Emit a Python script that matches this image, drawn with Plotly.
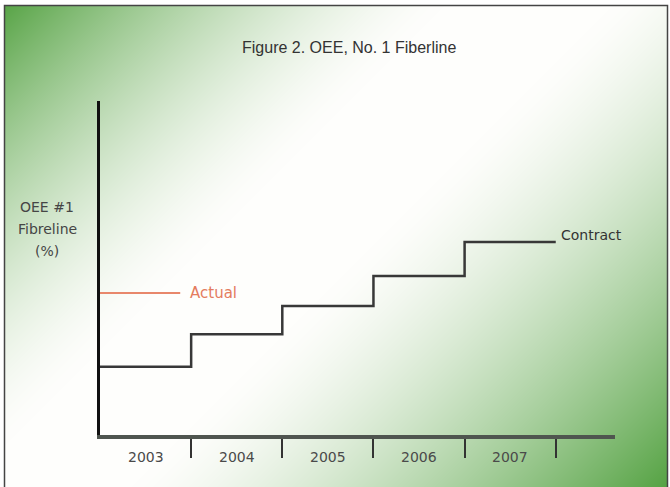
import base64
import struct
import zlib

import numpy as np
import plotly.graph_objects as go

# ---------------- data ----------------
years = ["2003", "2004", "2005", "2006", "2007"]
period_starts = [2003, 2004, 2005, 2006, 2007]
period_end = 2008
contract = [20.4, 30.2, 38.6, 47.6, 57.8]   # OEE contract level per year (relative %)
actual_level = 42.5
actual_span = [2003, 2003.88]

# ---------------- layout geometry (pixels) ----------------
W, H = 670, 487
L, R, T, B = 100, 55, 101, 52
PW, PH = W - L - R, H - T - B


def px_to_paper_x(px):
    return (px - L) / PW


def px_to_paper_y(py):
    return (H - B - py) / PH


# ---------------- background gradient image ----------------
def make_png(arr):
    h, w, _ = arr.shape
    raw = b"".join(b"\x00" + arr[i].tobytes() for i in range(h))

    def chunk(tag, data):
        return (struct.pack(">I", len(data)) + tag + data
                + struct.pack(">I", zlib.crc32(tag + data) & 0xFFFFFFFF))

    return (b"\x89PNG\r\n\x1a\n"
            + chunk(b"IHDR", struct.pack(">IIBBBBB", w, h, 8, 2, 0, 0, 0))
            + chunk(b"IDAT", zlib.compress(raw, 9))
            + chunk(b"IEND", b""))


yy, xx = np.mgrid[0:H, 0:W].astype(float)
d = xx + yy
e = (W + H) - d
f1 = np.clip(1 - d / 450.0, 0, 1) ** 1.5
f2 = np.clip(1 - e / 540.0, 0, 1) ** 1.4
f = np.maximum(f1, f2)
green = np.array([84, 162, 66], float)
base = np.array([254, 254, 252], float)
img = base[None, None, :] * (1 - f[..., None]) + green[None, None, :] * f[..., None]
# white outside the frame
mask = (xx < 4) | (yy < 5) | (xx > 667)
img[mask] = 255
img = np.clip(img, 0, 255).astype(np.uint8)
bg_uri = "data:image/png;base64," + base64.b64encode(make_png(img)).decode()

# ---------------- figure ----------------
fig = go.Figure()

fig.add_trace(go.Scatter(
    x=period_starts + [period_end],
    y=contract + [contract[-1]],
    mode="lines",
    line=dict(shape="hv", color="#383838", width=2.5),
    hoverinfo="skip",
    showlegend=False,
))

fig.add_trace(go.Scatter(
    x=actual_span,
    y=[actual_level, actual_level],
    mode="lines",
    line=dict(color="#e8876b", width=2),
    hoverinfo="skip",
    showlegend=False,
))

annotations = []
# year labels centred in each period
for yr, xs in zip(years, period_starts):
    annotations.append(dict(
        x=xs + 0.5, y=0, xref="x", yref="paper", text=yr, showarrow=False,
        yanchor="middle", yshift=-22,
        font=dict(family="DejaVu Sans", size=14, color="#4a4a4a"),
    ))

annotations.append(dict(
    x=actual_span[1] + 0.09, y=actual_level, xref="x", yref="y", text="Actual",
    showarrow=False, xanchor="left", yanchor="middle",
    font=dict(family="DejaVu Sans", size=15, color="#e47c5e"),
))
annotations.append(dict(
    x=period_end + 0.04, y=contract[-1], xref="x", yref="y", text="Contract",
    showarrow=False, xanchor="left", yanchor="middle", yshift=7,
    font=dict(family="DejaVu Sans", size=14, color="#333333"),
))

annotations.append(dict(
    x=px_to_paper_x(349), y=px_to_paper_y(48), xref="paper", yref="paper",
    text="Figure 2. OEE, No. 1 Fiberline", showarrow=False,
    xanchor="center", yanchor="middle",
    font=dict(family="Liberation Sans", size=16, color="#333333"),
))

for txt, py in [("OEE #1", 207), ("Fibreline", 229), ("(%)", 251)]:
    annotations.append(dict(
        x=px_to_paper_x(47), y=px_to_paper_y(py), xref="paper", yref="paper",
        text=txt, showarrow=False, xanchor="center", yanchor="middle",
        font=dict(family="DejaVu Sans", size=14, color="#454545"),
    ))

fig.update_layout(
    width=W, height=H,
    margin=dict(l=L, r=R, t=T, b=B, pad=0),
    paper_bgcolor="white",
    plot_bgcolor="rgba(0,0,0,0)",
    showlegend=False,
    annotations=annotations,
    images=[dict(
        source=bg_uri, xref="paper", yref="paper",
        x=px_to_paper_x(0), y=px_to_paper_y(0),
        sizex=W / PW, sizey=H / PH,
        xanchor="left", yanchor="top", sizing="stretch", layer="below",
    )],
    shapes=[dict(
        type="rect", xref="paper", yref="paper",
        x0=px_to_paper_x(4.5), x1=px_to_paper_x(667.5),
        y0=px_to_paper_y(495), y1=px_to_paper_y(5.5),
        line=dict(color="#444444", width=1.5), fillcolor="rgba(0,0,0,0)",
    )],
    xaxis=dict(
        range=[2003, 2008.65], showline=True, linecolor="#4f554f", linewidth=4,
        ticks="outside", tickvals=[2004, 2005, 2006, 2007, 2008], ticklen=19,
        tickwidth=2, tickcolor="#333333", showticklabels=False,
        showgrid=False, zeroline=False, fixedrange=True,
    ),
    yaxis=dict(
        range=[0, 100], showline=True, linecolor="#111111", linewidth=2.5,
        ticks="", showticklabels=False, showgrid=False, zeroline=False,
        fixedrange=True,
    ),
)

fig.write_html(
    "out.html",
    config={"displayModeBar": False},
    post_script="document.body.style.margin='0';document.body.style.overflow='hidden';",
)
